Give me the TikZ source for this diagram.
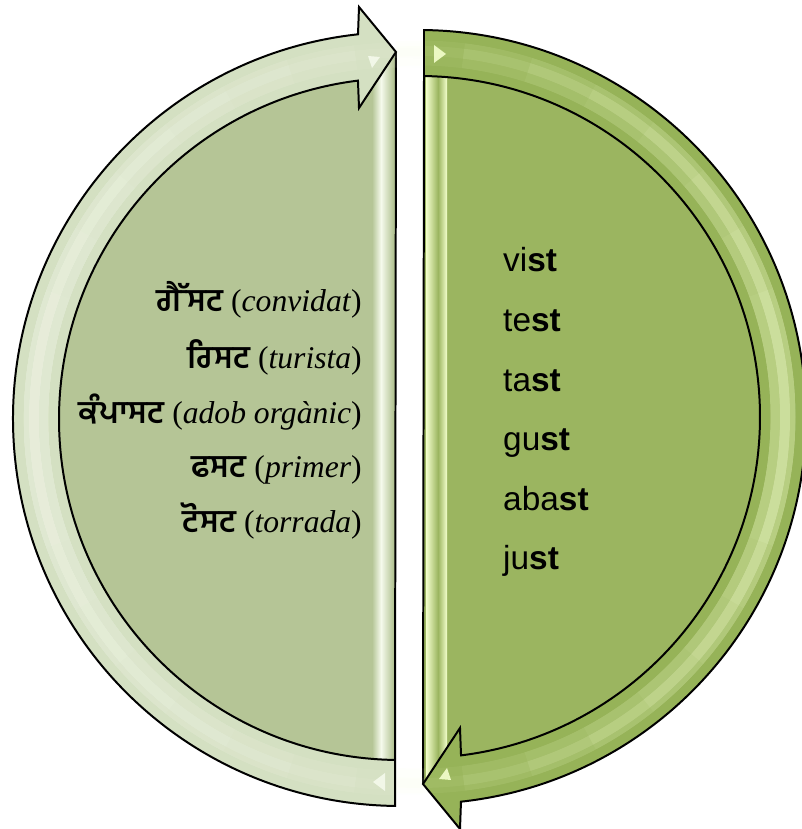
\documentclass[tikz,border=0pt]{standalone}
\usepackage{fontspec}
\setmainfont{Liberation Serif}
\newfontfamily\sansf{Liberation Sans}
\newfontfamily\gurf[Script=Gurmukhi]{Hind Jalandhar}
\usetikzlibrary{calc}
\definecolor{discL}{RGB}{181,197,150}
\definecolor{bandL}{RGB}{212,224,194}
\definecolor{glintL}{RGB}{245,250,236}
\definecolor{discR}{RGB}{155,181,96}
\definecolor{bandR}{RGB}{150,179,88}
\definecolor{glintR}{RGB}{244,255,205}
\newcommand\halfshape[4]{%
  \fill[#1] (395,69) -- (395,777) -- (358,777) -- (358,748)
     arc[start angle=97.08,end angle=269.16,radius=341] -- cycle;
  \shade[left color=#1,right color=#3] (372,69) rectangle (381,777);
  \shade[left color=#3,right color=#1] (381,69) rectangle (393,777);
  \draw[outl] (395,69) -- (396,777);
  \fill[#2] ($(400,410)+(96.23:387)$) arc[start angle=96.23,end angle=269.26,radius=387]
     -- ($(400,410)+(269.16:341)$) arc[start angle=269.16,end angle=97.08,radius=341]
     -- (359,721) -- (396,777) -- (359,822) -- cycle;
  \foreach \k in {0,...,7}{
    \pgfmathsetmacro\aa{180-(20+10.5*\k)}
    \pgfmathsetmacro\bb{180+(20+10.5*\k)}
    \draw[#3,opacity=#4,line width=0.75cm] ($(400,410)+(\aa:364)$) arc[start angle=\aa,end angle=\bb,radius=364];
    \draw[#3,opacity=#4,line width=0.3cm] ($(400,410)+(\aa:366)$) arc[start angle=\aa,end angle=\bb,radius=366];
  }
  \fill[#3,opacity=0.9] (368,773) -- (380,772) -- (372,761) -- cycle;
  \fill[#3,opacity=0.9] (373,47) -- (385,56) -- (385,38) -- cycle;
  \draw[outl] ($(400,410)+(96.23:387)$) arc[start angle=96.23,end angle=269.26,radius=387]
     -- ($(400,410)+(269.16:341)$) arc[start angle=269.16,end angle=97.08,radius=341]
     -- (359,721) -- (396,777) -- (359,822) -- cycle;
}
\begin{document}
\begin{tikzpicture}[x=0.03cm,y=0.03cm,
  outl/.style={draw=black,line width=1.7pt},
  rtxt/.style={anchor=base west,inner sep=0pt,font=\sansf\fontsize{28.5}{34}\selectfont},
  ltxt/.style={anchor=base east,inner sep=0pt,font=\fontsize{27}{32}\selectfont}]
\useasboundingbox (0,0) rectangle (802,829);
\clip (0,0) rectangle (802,829);
\halfshape{discL}{bandL}{glintL}{0.07}
\begin{scope}[rotate around={180:(409.5,411)}]
\halfshape{discR}{bandR}{glintR}{0.06}
\end{scope}
% left texts
\node[ltxt] (l1) at (362,517) {{\gurf\bfseries ਗੈੱਸਟ} (\textit{convidat})};
\node[ltxt] (l2) at (362,460) {{\gurf\bfseries ਰਿਸਟ} (\textit{turista})};
\node[ltxt] (l3) at (362,405) {{\gurf\bfseries ਕੰਪਾਸਟ} (\textit{adob orgànic})};
\node[ltxt] (l4) at (362,351) {{\gurf\bfseries ਫਸਟ} (\textit{primer})};
\node[ltxt] (l5) at (362,296) {{\gurf\bfseries ਟੋਸਟ} (\textit{torrada})};
% right texts
\node[rtxt] (r1) at (503,557) {vi\textbf{st}};
\node[rtxt] (r2) at (503,497.4) {te\textbf{st}};
\node[rtxt] (r3) at (503,437.8) {ta\textbf{st}};
\node[rtxt] (r4) at (503,378.2) {gu\textbf{st}};
\node[rtxt] (r5) at (503,318.6) {aba\textbf{st}};
\node[rtxt] (r6) at (503,259) {ju\textbf{st}};
\end{tikzpicture}
\end{document}
